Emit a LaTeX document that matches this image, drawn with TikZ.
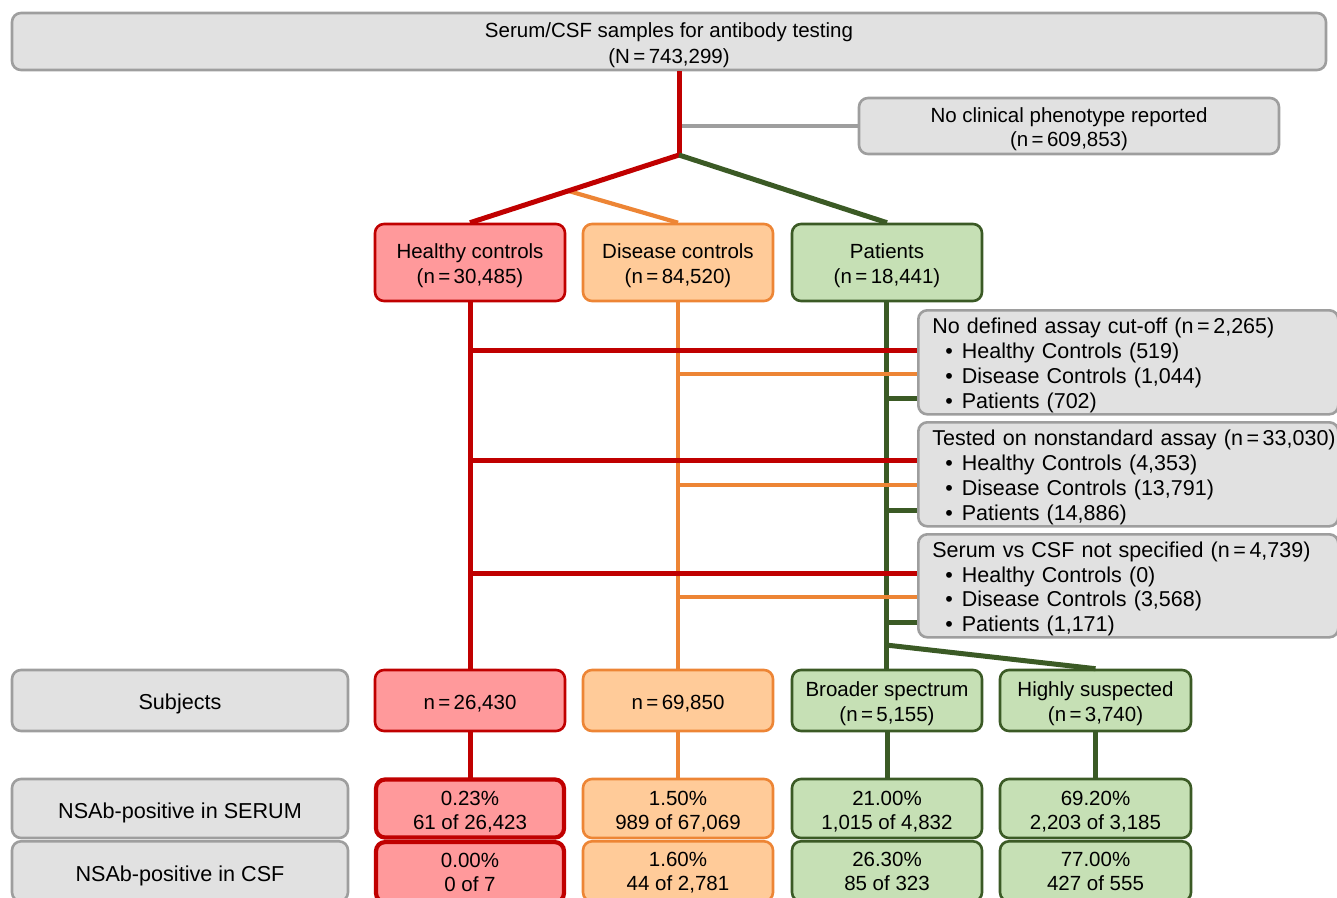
\documentclass[tikz,border=0pt]{standalone}
\usepackage{fontspec}
\setmainfont{Liberation Sans}
\usetikzlibrary{calc}
\definecolor{redl}{HTML}{C00000}
\definecolor{redf}{HTML}{FF999B}
\definecolor{orl}{HTML}{ED8535}
\definecolor{orf}{HTML}{FFCB99}
\definecolor{grl}{HTML}{3B5A25}
\definecolor{grf}{HTML}{C6E0B5}
\definecolor{gyl}{HTML}{9E9E9E}
\definecolor{gyf}{HTML}{E1E1E1}
% text block lowered by #1 without changing its size
\newcommand{\mtxt}[3]{\raisebox{-#1}[\height][\depth]{\begin{tabular}{@{}#2@{}}#3\end{tabular}}}
\newcommand{\bitem}{\hspace*{13pt}\textbullet\hspace{9pt}}
\begin{document}
\begin{tikzpicture}[x=1pt,y=-1pt,
  boxbase/.style={rounded corners=9pt, line width=2.6pt, inner sep=0pt,
    font=\fontsize{20.5}{24.5}\selectfont, text=black},
  gybox/.style={boxbase, fill=gyf, draw=gyl},
  lblbox/.style={gybox, font=\fontsize{21.6}{24.5}\selectfont},
  rdbox/.style={boxbase, fill=redf, draw=redl},
  rdboxthick/.style={boxbase, fill=redf, draw=redl, line width=4.2pt},
  orbox/.style={boxbase, fill=orf, draw=orl},
  grbox/.style={boxbase, fill=grf, draw=grl},
  resrow/.style={font=\fontsize{20.5}{23.5}\selectfont},
  rdlink/.style={draw=redl, line width=5pt},
  orlink/.style={draw=orl, line width=4.2pt},
  grlink/.style={draw=grl, line width=5pt},
  gylink/.style={draw=gyl, line width=4.5pt},
  sidebox/.style={gybox, font=\fontsize{21.5}{24.7}\selectfont, align=left, minimum width=420, minimum height=104, anchor=north west, text width=392, inner xsep=14pt}]
\useasboundingbox (0,0) rectangle (1337,897);
\clip (0,0) rectangle (1337,897);

% top
\node[gybox, font=\fontsize{20.5}{26}\selectfont, minimum width=1314, minimum height=57] (top) at (669,41.5)
  {\mtxt{3.3pt}{c}{Serum/CSF samples for antibody testing\\(N\,=\,743,299)}};
\node[gybox, minimum width=420, minimum height=56] (nc) at (1069,126)
  {\mtxt{3.6pt}{c}{No clinical phenotype reported\\(n\,=\,609,853)}};

\node[rdbox, minimum width=190, minimum height=77] (hc) at (470,262.5) {\mtxt{3.7pt}{c}{Healthy controls\\(n\,=\,30,485)}};
\node[orbox, minimum width=190, minimum height=77] (dc) at (678,262.5) {\mtxt{3.7pt}{c}{Disease controls\\(n\,=\,84,520)}};
\node[grbox, minimum width=190, minimum height=77] (pt) at (887,262.5) {\mtxt{3.7pt}{c}{Patients\\(n\,=\,18,441)}};

% second row
\node[lblbox, minimum width=336, minimum height=61] (subj) at (180,700.5) {\mtxt{3.6pt}{c}{Subjects}};
\node[rdbox, minimum width=190, minimum height=61] (hcn) at (470,700.5) {\mtxt{3.6pt}{c}{n\,=\,26,430}};
\node[orbox, minimum width=190, minimum height=61] (dcn) at (678,700.5) {\mtxt{3.6pt}{c}{n\,=\,69,850}};
\node[grbox, minimum width=190, minimum height=61] (br) at (887,700.5) {\mtxt{3.7pt}{c}{Broader spectrum\\(n\,=\,5,155)}};
\node[grbox, minimum width=191, minimum height=61] (hs) at (1095.5,700.5) {\mtxt{3.7pt}{c}{Highly suspected\\(n\,=\,3,740)}};

% connectors (trunks first)
\coordinate (split) at (679,155);
\coordinate (gj) at (679,126);
\coordinate (pj) at (886,645);
\draw[gylink] (gj) -- (nc.west);
\draw[rdlink] (top.south -| split) -- (split);
\draw[orlink] ($(split)!0.53!(hc.north)$) -- (dc.north);
\draw[rdlink] (split) -- (hc.north);
\draw[grlink] (split) -- (pt.north);

\draw[rdlink] (hc.south) -- (hcn.north);
\draw[orlink] (dc.south) -- (dcn.north);
\draw[grlink] (pt.south -| pj) -- (br.north -| pj);
\draw[grlink] (pj) -- (hs.north);

% side boxes
\node[sidebox] (nd) at (917,309)
  {\mtxt{3.8pt}{l}{No defined assay cut-off (n\,=\,2,265)\\
   \bitem Healthy Controls (519)\\
   \bitem Disease Controls (1,044)\\
   \bitem Patients (702)}};
\node[sidebox] (ns) at (917,421)
  {\mtxt{3.8pt}{l}{Tested on nonstandard assay (n\,=\,33,030)\\
   \bitem Healthy Controls (4,353)\\
   \bitem Disease Controls (13,791)\\
   \bitem Patients (14,886)}};
\node[sidebox, minimum height=103] (sc) at (917,533)
  {\mtxt{3.8pt}{l}{Serum vs CSF not specified (n\,=\,4,739)\\
   \bitem Healthy Controls (0)\\
   \bitem Disease Controls (3,568)\\
   \bitem Patients (1,171)}};

% horizontal exclusion links (green, orange, red on top)
\foreach \b/\yr/\yo/\yg in {nd/350/374/398, ns/460/485/510, sc/573/597/622}{
  \draw[grlink] (pt.south |- 0,\yg) -- (\b.west |- 0,\yg);
  \draw[orlink] (dc.south |- 0,\yo) -- (\b.west |- 0,\yo);
  \draw[rdlink] (hc.south |- 0,\yr) -- (\b.west |- 0,\yr);
}

% result rows
\node[lblbox, minimum width=336, minimum height=59] (ser) at (180,808.5) {\mtxt{5pt}{c}{NSAb-positive in SERUM}};
\node[lblbox, minimum width=336, minimum height=60, anchor=north] (csf) at (180,840) {\mtxt{5pt}{c}{NSAb-positive in CSF}};

\draw[rdlink] (hcn.south) -- (470,779);
\draw[orlink] (dcn.south) -- (678,779);
\draw[grlink] (br.south) -- (887,779);
\draw[grlink] (hs.south) -- (1095.5,779);

\node[rdboxthick, resrow, minimum width=188, minimum height=58] (hcs) at (470,808.5) {\mtxt{4.2pt}{c}{0.23\%\\61 of 26,423}};
\node[orbox, resrow, minimum width=190, minimum height=59] (dcs) at (678,808.5) {\mtxt{4.2pt}{c}{1.50\%\\989 of 67,069}};
\node[grbox, resrow, minimum width=190, minimum height=59] (brs) at (887,808.5) {\mtxt{4.2pt}{c}{21.00\%\\1,015 of 4,832}};
\node[grbox, resrow, minimum width=191, minimum height=59] (hss) at (1095.5,808.5) {\mtxt{4.2pt}{c}{69.20\%\\2,203 of 3,185}};

\node[rdboxthick, resrow, minimum width=188, minimum height=60, anchor=north] (hcc) at (470,840) {\mtxt{2.5pt}{c}{0.00\%\\0 of 7}};
\node[orbox, resrow, minimum width=190, minimum height=60, anchor=north] (dcc) at (678,840) {\mtxt{2.5pt}{c}{1.60\%\\44 of 2,781}};
\node[grbox, resrow, minimum width=190, minimum height=60, anchor=north] (brc) at (887,840) {\mtxt{2.5pt}{c}{26.30\%\\85 of 323}};
\node[grbox, resrow, minimum width=191, minimum height=60, anchor=north] (hsc) at (1095.5,840) {\mtxt{2.5pt}{c}{77.00\%\\427 of 555}};
\end{tikzpicture}
\end{document}
